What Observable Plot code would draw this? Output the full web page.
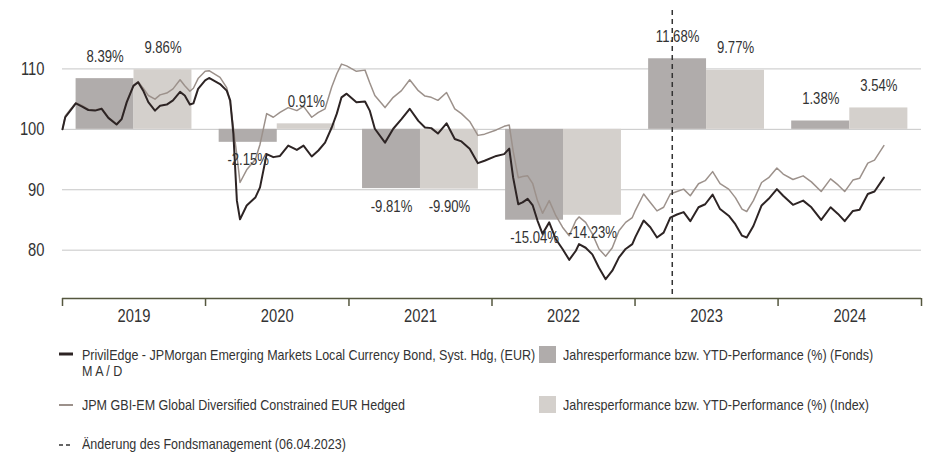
<!DOCTYPE html>
<html>
<head>
<meta charset="utf-8">
<script src="https://cdn.jsdelivr.net/npm/d3@7"></script>
<script src="https://cdn.jsdelivr.net/npm/@observablehq/plot@0.6"></script>
<style>
  body { margin: 0; background: #fff; }
  #wrap { position: relative; width: 928px; height: 452px; overflow: hidden; font-family: "Liberation Sans", Arial, sans-serif; color: #333; }
  #chart { position: absolute; left: 0; top: 0; }
  .lg { position: absolute; font-size: 15px; line-height: 16px; white-space: nowrap; color: #333; }
  .lg span { display: inline-block; transform: scaleX(0.835); transform-origin: 0 50%; }
  .sw { position: absolute; }
</style>
</head>
<body>
<div id="wrap">
  <div id="chart"></div>
  <div id="legend"></div>
</div>
<script>
// ---- data ----
const dates = [
  "2019-01-01","2019-01-08","2019-01-21","2019-02-04","2019-02-19","2019-03-08","2019-03-25","2019-04-11","2019-04-28","2019-05-19",
  "2019-06-01","2019-06-14","2019-07-01","2019-07-13","2019-07-26","2019-08-08","2019-08-25","2019-09-07","2019-09-24","2019-10-10",
  "2019-10-28","2019-11-09","2019-11-22","2019-12-01","2019-12-13","2019-12-31",
  "2020-01-10","2020-02-07","2020-02-24","2020-03-04","2020-03-12","2020-03-21","2020-03-29","2020-04-15","2020-05-07","2020-05-19",
  "2020-06-05","2020-06-22","2020-07-09","2020-07-30","2020-08-21","2020-09-07","2020-09-28","2020-10-15","2020-11-01","2020-11-18",
  "2020-12-01","2020-12-13","2020-12-26",
  "2021-01-20","2021-02-11","2021-02-23","2021-03-08","2021-04-03","2021-04-24","2021-05-15","2021-06-05","2021-06-27","2021-07-14",
  "2021-07-30","2021-08-16","2021-09-07","2021-09-28","2021-10-15","2021-11-05","2021-11-26","2021-12-13",
  "2022-01-12","2022-02-01","2022-02-14","2022-02-24","2022-03-09","2022-03-20","2022-04-02","2022-04-15","2022-04-27","2022-05-10",
  "2022-05-27","2022-06-13","2022-06-30","2022-07-17","2022-08-03","2022-08-11","2022-08-28","2022-09-14","2022-10-01","2022-10-18",
  "2022-11-04","2022-11-21","2022-12-08","2022-12-25",
  "2023-01-02","2023-01-23","2023-02-09","2023-02-26","2023-03-15","2023-04-01","2023-04-18","2023-05-05","2023-05-22","2023-06-12",
  "2023-06-29","2023-07-18","2023-08-06","2023-08-28","2023-09-14","2023-10-01","2023-10-13","2023-10-30","2023-11-20","2023-12-08",
  "2023-12-29",
  "2024-01-14","2024-02-08","2024-03-05","2024-03-26","2024-04-20","2024-05-14","2024-06-02","2024-06-19","2024-07-10","2024-07-27",
  "2024-08-17","2024-09-03","2024-09-27"
];
const fundValues = [
  100.0,102.0,103.1,104.3,103.8,103.2,103.1,103.4,101.9,100.8,
  101.7,104.5,107.2,107.8,106.4,104.5,103.1,103.9,104.1,104.8,
  106.2,105.6,104.1,104.3,106.7,108.1,
  108.5,107.5,106.4,104.8,99.3,88.2,85.1,87.4,88.7,90.4,
  95.9,95.4,95.6,97.3,96.6,97.3,95.5,96.5,97.8,100.3,
  102.6,105.3,105.9,
  104.5,104.6,103.1,100.1,97.8,100.1,101.7,103.4,101.4,100.3,
  100.2,99.3,101.0,98.4,98.0,96.8,94.4,94.8,
  95.6,95.9,96.8,92.0,87.6,87.9,88.5,87.4,84.9,82.7,
  84.6,81.8,80.2,78.4,79.9,81.0,80.4,79.3,77.1,75.2,
  76.6,78.8,80.2,81.0,
  82.2,84.9,83.8,82.1,82.9,85.4,85.9,86.3,84.8,87.1,
  87.6,89.2,86.8,85.7,84.3,82.4,82.1,84.0,87.4,88.5,
  90.1,
  89.0,87.5,88.2,87.1,85.0,87.1,86.0,84.8,86.5,86.7,
  89.3,89.7,92.0
];
const indexValues = [
  100.0,102.2,103.3,104.4,104.0,103.3,103.2,103.5,102.0,100.9,
  101.8,104.6,107.3,107.9,106.8,105.6,105.0,105.7,106.0,106.7,
  108.2,107.2,106.3,106.8,108.4,109.6,
  109.7,108.6,106.9,104.4,100.3,95.7,91.2,93.3,95.0,97.5,
  102.6,102.0,102.8,103.6,103.1,103.8,102.0,102.8,103.4,107.0,
  109.2,110.8,110.5,
  109.6,109.8,107.7,105.6,103.6,105.3,106.4,108.2,106.4,105.5,
  105.3,104.8,106.1,103.4,102.6,101.3,99.0,99.2,
  99.9,100.5,100.7,96.4,92.0,92.2,92.3,91.0,88.2,86.1,
  88.2,85.7,83.8,82.4,84.9,85.5,84.6,82.7,80.2,79.0,
  80.4,83.2,84.6,85.4,
  86.6,89.3,87.9,86.5,87.1,89.3,89.7,90.1,89.0,91.0,
  91.5,93.0,91.0,90.1,88.7,86.8,86.4,88.2,91.2,92.0,
  93.6,
  92.6,91.7,92.3,91.3,89.7,91.8,90.8,89.7,91.6,91.9,
  94.4,94.9,97.3
];
const years = [2019, 2020, 2021, 2022, 2023, 2024];
const fundPerf = [8.39, -2.15, -9.81, -15.04, 11.68, 1.38];
const indexPerf = [9.86, 0.91, -9.90, -14.23, 9.77, 3.54];
const yTicks = [80, 90, 100, 110];
const managerChange = "2023-04-06";
const fundName = "PrivilEdge - JPMorgan Emerging Markets Local Currency Bond, Syst. Hdg, (EUR)";
const fundName2 = "M A / D";
const indexName = "JPM GBI-EM Global Diversified Constrained EUR Hedged";
const fundBarName = "Jahresperformance bzw. YTD-Performance (%) (Fonds)";
const indexBarName = "Jahresperformance bzw. YTD-Performance (%) (Index)";
const changeName = "Änderung des Fondsmanagement (06.04.2023)";

// ---- styles ----
const FONT = '"Liberation Sans", Arial, sans-serif';
const NARROW = 0.82;
const C_FUND = "#2d2424";
const C_INDEX = "#9c918b";
const C_FUNDBAR = "#b0acab";
const C_INDEXBAR = "#d4d0cc";
const C_GRID = "#c6c6c6";
const C_AXIS = "#55573f";

// ---- build tables ----
const parse = d3.utcParse("%Y-%m-%d");
const lineData = dates.map((d, i) => ({date: parse(d), fund: fundValues[i], index: indexValues[i]}));
const yr = y => new Date(Date.UTC(y, 0, 1));
const at = (y, f) => new Date(+yr(y) + f * (yr(y + 1) - yr(y)));
const bars = [];
years.forEach((y, i) => {
  bars.push({year: y, kind: "fund", pct: fundPerf[i], x1: at(y, 0.095), x2: at(y, 0.5)});
  bars.push({year: y, kind: "index", pct: indexPerf[i], x1: at(y, 0.5), x2: at(y, 0.905)});
});
const boundaries = years.concat([years[years.length - 1] + 1]).map(yr);
const fmt = v => v.toFixed(2) + "%";
const mid = d => new Date((+d.x1 + +d.x2) / 2);

const chart = Plot.plot({
  width: 928,
  height: 330,
  marginLeft: 62,
  marginRight: 7,
  marginTop: 8,
  marginBottom: 32,
  x: {type: "utc", domain: [yr(years[0]), yr(years[years.length - 1] + 1)], axis: null},
  y: {domain: [72, 120], axis: null},
  style: {fontFamily: FONT, background: "white", color: "#333"},
  marks: [
    Plot.ruleY(yTicks, {stroke: C_GRID, strokeWidth: 1}),
    Plot.rectY(bars, {x1: "x1", x2: "x2", y1: () => 100, y2: d => 100 + d.pct,
      fill: d => d.kind === "fund" ? C_FUNDBAR : C_INDEXBAR}),
    Plot.lineY(lineData, {x: "date", y: "index", stroke: C_INDEX, strokeWidth: 1.5}),
    Plot.lineY(lineData, {x: "date", y: "fund", stroke: C_FUND, strokeWidth: 2}),
    Plot.text(bars.filter(d => d.pct >= 0), {x: mid, y: d => 100 + d.pct,
      dy: -22, text: d => fmt(d.pct), fontSize: 16, fill: "#333"}),
    Plot.text(bars.filter(d => d.pct < 0), {x: mid, y: d => 100 + d.pct,
      dy: 18, text: d => fmt(d.pct), fontSize: 16, fill: "#333"}),
    Plot.ruleX([parse(managerChange)], {stroke: "#333", strokeWidth: 1.5, strokeDasharray: "5,4", insetTop: 2, insetBottom: 4}),
    Plot.ruleY([72], {stroke: C_AXIS, strokeWidth: 1.5}),
    Plot.axisX(boundaries, {tickSize: 8, tickFormat: () => "", stroke: C_AXIS, strokeWidth: 1.5}),
    Plot.text(years, {x: y => at(y, 0.5), y: () => 72, dy: 18, text: y => String(y), fontSize: 18, fill: "#333"}),
    Plot.text(yTicks, {x: () => yr(years[0]), y: d => d, dx: -18, textAnchor: "end", text: d => String(d), fontSize: 18, fill: "#333"})
  ]
});
// condense the svg texts horizontally (narrow typeface look)
chart.querySelectorAll("text").forEach(t => {
  if (!t.textContent) return;
  const x = +(t.getAttribute("x") || 0);
  t.setAttribute("x", x / NARROW);
  const tr = t.getAttribute("transform") || "";
  t.setAttribute("transform", (tr + ` scale(${NARROW},1)`).trim());
});
document.getElementById("chart").appendChild(chart);

// ---- legend ----
const lg = document.getElementById("legend");
function add(html) { lg.insertAdjacentHTML("beforeend", html); }
add(`<svg class="sw" style="left:59px;top:347px" width="14" height="14"><line x1="0" x2="14" y1="7" y2="7" stroke="${C_FUND}" stroke-width="3"/></svg>`);
add(`<div class="lg" style="left:82px;top:347px"><span>${fundName}</span><br><span>${fundName2}</span></div>`);
add(`<div class="sw" style="left:539px;top:346px;width:17px;height:17px;background:${C_FUNDBAR}"></div>`);
add(`<div class="lg" style="left:563px;top:347px"><span>${fundBarName}</span></div>`);
add(`<svg class="sw" style="left:59px;top:398px" width="14" height="14"><line x1="0" x2="14" y1="7" y2="7" stroke="${C_INDEX}" stroke-width="2"/></svg>`);
add(`<div class="lg" style="left:82px;top:397px"><span>${indexName}</span></div>`);
add(`<div class="sw" style="left:539px;top:396px;width:17px;height:17px;background:${C_INDEXBAR}"></div>`);
add(`<div class="lg" style="left:563px;top:397px"><span>${indexBarName}</span></div>`);
add(`<svg class="sw" style="left:59px;top:438px" width="14" height="14"><line x1="0" x2="14" y1="7" y2="7" stroke="#333" stroke-width="1.5" stroke-dasharray="4,3"/></svg>`);
add(`<div class="lg" style="left:82px;top:437px;line-height:14px"><span>${changeName}</span></div>`);
</script>
</body>
</html>
